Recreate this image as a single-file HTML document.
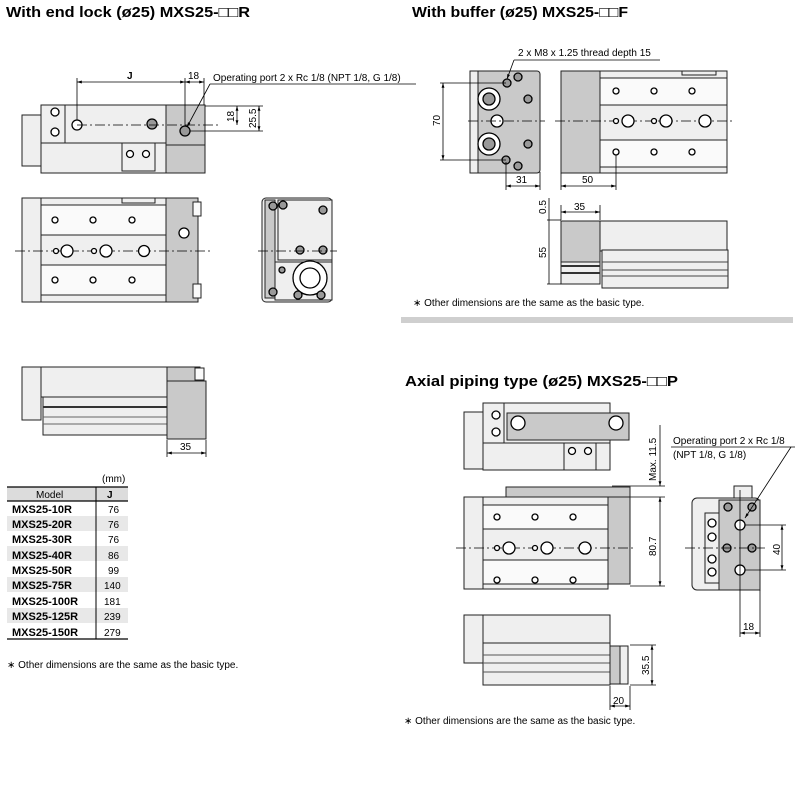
<!DOCTYPE html>
<html><head><meta charset="utf-8"><style>
html,body{margin:0;padding:0;background:#fff}
svg{display:block}
text{font-family:"Liberation Sans",sans-serif;fill:#000}
.t{font-weight:bold;font-size:15px}
.s{font-size:10px}
.b{fill:#efefef;stroke:#222;stroke-width:1}
.g{fill:#c9c9c9;stroke:#222;stroke-width:1}
.w{fill:#fafafa;stroke:#222;stroke-width:1}
.d{stroke:#000;stroke-width:.8;fill:none}
.c{stroke:#000;stroke-width:.7;stroke-dasharray:10,3,2,3;fill:none}
.h{fill:#fff;stroke:#000;stroke-width:1.3}
.hb{fill:#999;stroke:#000;stroke-width:1.3}
</style></head><body>
<svg width="800" height="800" viewBox="0 0 800 800" xmlns="http://www.w3.org/2000/svg">
<defs>
<marker id="a" viewBox="0 0 10 10" refX="10" refY="5" markerWidth="6" markerHeight="6" orient="auto-start-reverse"><path d="M0,2L10,5L0,8z" fill="#000"/></marker>
</defs>

<!-- TITLES -->
<text x="6" y="17" class="t" textLength="244" lengthAdjust="spacingAndGlyphs">With end lock (ø25) MXS25-□□R</text>
<text x="412" y="17" class="t" textLength="216" lengthAdjust="spacingAndGlyphs">With buffer (ø25) MXS25-□□F</text>
<text x="405" y="386" class="t" textLength="273" lengthAdjust="spacingAndGlyphs">Axial piping type (ø25) MXS25-□□P</text>

<!-- ===== TOP LEFT SIDE VIEW ===== -->
<rect x="22" y="115" width="19" height="51" class="b"/>
<rect x="41" y="105" width="125" height="38" class="b"/>
<rect x="41" y="105" width="24" height="38" class="b"/>
<rect x="41" y="143" width="125" height="30" class="b"/>
<rect x="122" y="143" width="33" height="28" class="b"/>
<rect x="166" y="105" width="39" height="40" class="g"/>
<rect x="166" y="145" width="39" height="28" class="g"/>
<circle cx="55" cy="112" r="4" class="h"/><circle cx="55" cy="132" r="4" class="h"/>
<circle cx="77" cy="125" r="5" class="h"/>
<circle cx="152" cy="124" r="5" class="hb"/>
<circle cx="185" cy="131" r="5" class="hb"/>
<circle cx="130" cy="154" r="3.5" class="h"/><circle cx="146" cy="154" r="3.5" class="h"/>
<line x1="77" y1="125" x2="220" y2="125" class="c"/>
<line x1="77" y1="120" x2="77" y2="78" class="d"/>
<line x1="185" y1="126" x2="185" y2="78" class="d"/>
<line x1="204" y1="105" x2="204" y2="78" class="d"/>
<line x1="77" y1="82" x2="185" y2="82" class="d" marker-start="url(#a)" marker-end="url(#a)"/>
<line x1="185" y1="82" x2="204" y2="82" class="d" marker-start="url(#a)" marker-end="url(#a)"/>
<text x="127" y="79" class="s" font-weight="bold" font-size="12">J</text>
<text x="188" y="79" class="s">18</text>
<line x1="205" y1="106" x2="263" y2="106" class="d"/>
<line x1="190" y1="131" x2="263" y2="131" class="d"/>
<line x1="237" y1="106" x2="237" y2="125" class="d" marker-start="url(#a)" marker-end="url(#a)"/>
<line x1="259" y1="106" x2="259" y2="131" class="d" marker-start="url(#a)" marker-end="url(#a)"/>
<text transform="translate(234,122) rotate(-90)" class="s">18</text>
<text transform="translate(256,128) rotate(-90)" class="s">25.5</text>
<text x="213" y="81" class="s">Operating port 2 x Rc 1/8 (NPT 1/8, G 1/8)</text>
<line x1="210" y1="84" x2="416" y2="84" class="d"/>
<line x1="210" y1="84" x2="187" y2="127" class="d" marker-end="url(#a)"/>

<!-- TOP VIEW -->
<rect x="22" y="198" width="19" height="104" class="b"/>
<rect x="41" y="198" width="125" height="104" class="b"/>
<rect x="41" y="205" width="125" height="30" class="w"/>
<rect x="41" y="265" width="125" height="30" class="w"/>
<rect x="122" y="198" width="33" height="5" class="b"/>
<rect x="166" y="198" width="32" height="104" class="g"/>
<rect x="193" y="202" width="8" height="14" class="w"/><rect x="193" y="284" width="8" height="14" class="w"/>
<line x1="15" y1="251" x2="212" y2="251" class="c"/>
<g class="h"><circle cx="55" cy="220" r="3"/><circle cx="93" cy="220" r="3"/><circle cx="132" cy="220" r="3"/>
<circle cx="55" cy="280" r="3"/><circle cx="93" cy="280" r="3"/><circle cx="132" cy="280" r="3"/>
<circle cx="56" cy="251" r="2.5"/><circle cx="67" cy="251" r="6"/><circle cx="94" cy="251" r="2.5"/><circle cx="106" cy="251" r="6"/><circle cx="144" cy="251" r="5.5"/>
<circle cx="184" cy="233" r="5"/></g>

<!-- END VIEW -->
<rect x="262" y="198" width="70" height="104" rx="4" class="b"/>
<rect x="265" y="200" width="10" height="98" class="g"/>
<rect x="278" y="200" width="54" height="60" class="b"/>
<rect x="275" y="262" width="57" height="38" class="b"/>
<circle cx="310" cy="278" r="17" class="h"/><circle cx="310" cy="278" r="10" class="h"/>
<g class="hb"><circle cx="273" cy="206" r="4"/><circle cx="283" cy="205" r="4"/><circle cx="323" cy="210" r="4"/><circle cx="300" cy="250" r="4"/><circle cx="323" cy="250" r="4"/><circle cx="273" cy="292" r="4"/><circle cx="298" cy="295" r="4"/><circle cx="321" cy="295" r="4"/><circle cx="282" cy="270" r="3"/></g>
<line x1="258" y1="251" x2="337" y2="251" class="c"/>

<!-- LEFT BOTTOM SIDE VIEW -->
<rect x="22" y="367" width="19" height="53" class="b"/>
<rect x="41" y="367" width="126" height="30" class="b"/>
<rect x="43" y="397" width="124" height="38" class="b"/>
<line x1="43" y1="407" x2="167" y2="407" stroke="#333" stroke-width="2"/>
<line x1="43" y1="417" x2="167" y2="417" stroke="#666"/>
<line x1="43" y1="424" x2="167" y2="424" stroke="#666"/>
<rect x="167" y="367" width="33" height="14" class="g"/>
<rect x="167" y="381" width="39" height="58" class="g"/>
<rect x="195" y="368" width="9" height="12" class="w"/>
<line x1="167" y1="440" x2="167" y2="457" class="d"/><line x1="206" y1="440" x2="206" y2="457" class="d"/>
<line x1="167" y1="453" x2="206" y2="453" class="d" marker-start="url(#a)" marker-end="url(#a)"/>
<text x="180" y="450" class="s">35</text>

<!-- TABLE -->
<text x="102" y="482" class="s">(mm)</text>
<rect x="7" y="487" width="121" height="14" fill="#dcdcdc"/>
<line x1="7" y1="487" x2="128" y2="487" stroke="#000" stroke-width="1.2"/>
<line x1="7" y1="501" x2="128" y2="501" stroke="#000" stroke-width="1.2"/>
<line x1="96" y1="487" x2="96" y2="639" stroke="#000"/>
<g fill="#e8e8e8"><rect x="7" y="516" width="121" height="15"/><rect x="7" y="546" width="121" height="15"/><rect x="7" y="577" width="121" height="15"/><rect x="7" y="608" width="121" height="15"/></g>
<line x1="96" y1="487" x2="96" y2="639" stroke="#000"/>
<line x1="7" y1="639" x2="128" y2="639" stroke="#000" stroke-width="1.2"/>
<text x="36" y="498" class="s">Model</text>
<text x="107" y="498" class="s" font-weight="bold" font-size="11">J</text>
<g font-weight="bold" font-size="11">
<text x="12" y="513">MXS25-10R</text><text x="12" y="528">MXS25-20R</text><text x="12" y="543">MXS25-30R</text><text x="12" y="559">MXS25-40R</text><text x="12" y="574">MXS25-50R</text><text x="12" y="589">MXS25-75R</text><text x="12" y="605">MXS25-100R</text><text x="12" y="620">MXS25-125R</text><text x="12" y="636">MXS25-150R</text></g>
<g font-size="10"><text x="108" y="513">76</text><text x="108" y="528">76</text><text x="108" y="543">76</text><text x="108" y="559">86</text><text x="108" y="574">99</text><text x="104" y="589">140</text><text x="104" y="605">181</text><text x="104" y="620">239</text><text x="104" y="636">279</text></g>
<text x="7" y="668" class="s">∗ Other dimensions are the same as the basic type.</text>

<!-- ===== TOP RIGHT ===== -->
<rect x="470" y="71" width="70" height="102" rx="3" class="g"/>
<rect x="470" y="71" width="8" height="102" class="b"/>
<circle cx="489" cy="99" r="11" class="h"/><circle cx="489" cy="99" r="6" class="hb"/>
<circle cx="489" cy="144" r="11" class="h"/><circle cx="489" cy="144" r="6" class="hb"/>
<circle cx="497" cy="121" r="6" class="h"/>
<g class="hb"><circle cx="507" cy="83" r="4"/><circle cx="518" cy="77" r="4"/><circle cx="528" cy="99" r="4"/><circle cx="528" cy="144" r="4"/><circle cx="506" cy="160" r="4"/><circle cx="518" cy="166" r="4"/></g>
<line x1="468" y1="121" x2="545" y2="121" class="c"/>
<line x1="440" y1="83" x2="506" y2="83" class="d"/><line x1="440" y1="160" x2="506" y2="160" class="d"/>
<line x1="443" y1="83" x2="443" y2="160" class="d" marker-start="url(#a)" marker-end="url(#a)"/>
<text transform="translate(440,126) rotate(-90)" class="s">70</text>
<line x1="506" y1="162" x2="506" y2="190" class="d"/><line x1="540" y1="172" x2="540" y2="190" class="d"/>
<line x1="506" y1="186" x2="540" y2="186" class="d" marker-start="url(#a)" marker-end="url(#a)"/>
<text x="516" y="183" class="s">31</text>
<text x="518" y="56" class="s">2 x M8 x 1.25 thread depth 15</text>
<line x1="514" y1="60" x2="660" y2="60" class="d"/>
<line x1="514" y1="60" x2="507" y2="79" class="d" marker-end="url(#a)"/>

<rect x="561" y="71" width="166" height="102" class="b"/>
<rect x="561" y="71" width="39" height="102" class="g"/>
<rect x="600" y="78" width="127" height="27" class="w"/>
<rect x="600" y="140" width="127" height="27" class="w"/>
<rect x="682" y="71" width="34" height="4" class="b"/>
<line x1="555" y1="121" x2="732" y2="121" class="c"/>
<g class="h"><circle cx="616" cy="91" r="3"/><circle cx="654" cy="91" r="3"/><circle cx="692" cy="91" r="3"/><circle cx="616" cy="152" r="3"/><circle cx="654" cy="152" r="3"/><circle cx="692" cy="152" r="3"/>
<circle cx="616" cy="121" r="2.5"/><circle cx="628" cy="121" r="6"/><circle cx="654" cy="121" r="2.5"/><circle cx="666" cy="121" r="6"/><circle cx="705" cy="121" r="6"/></g>
<line x1="561" y1="173" x2="561" y2="190" class="d"/><line x1="616" y1="155" x2="616" y2="190" class="d"/>
<line x1="561" y1="186" x2="616" y2="186" class="d" marker-start="url(#a)" marker-end="url(#a)"/>
<text x="582" y="183" class="s">50</text>

<rect x="561" y="221" width="166" height="30" class="b"/>
<rect x="602" y="250" width="126" height="38" class="b"/>
<line x1="602" y1="262" x2="728" y2="262" stroke="#444"/><line x1="602" y1="270" x2="728" y2="270" stroke="#444"/><line x1="602" y1="276" x2="728" y2="276" stroke="#444"/>
<rect x="561" y="221" width="39" height="63" class="g"/>
<rect x="561" y="262" width="39" height="22" class="b"/>
<line x1="561" y1="266" x2="600" y2="266" stroke="#333" stroke-width="2"/><line x1="561" y1="273" x2="600" y2="273" stroke="#333" stroke-width="2"/>
<line x1="547" y1="220" x2="561" y2="220" class="d"/><line x1="547" y1="284" x2="561" y2="284" class="d"/>
<line x1="549" y1="198" x2="549" y2="284" class="d"/>
<text transform="translate(546,214) rotate(-90)" class="s">0.5</text>
<text transform="translate(546,258) rotate(-90)" class="s">55</text>
<line x1="561" y1="205" x2="561" y2="220" class="d"/><line x1="600" y1="205" x2="600" y2="220" class="d"/>
<line x1="561" y1="212" x2="600" y2="212" class="d" marker-start="url(#a)" marker-end="url(#a)"/>
<text x="574" y="210" class="s">35</text>
<text x="413" y="306" class="s">∗ Other dimensions are the same as the basic type.</text>
<rect x="401" y="317" width="392" height="6" fill="#cfcfcf"/>

<!-- ===== BOTTOM RIGHT ===== -->
<rect x="464" y="412" width="19" height="57" class="b"/>
<rect x="483" y="403" width="127" height="40" class="b"/>
<rect x="483" y="403" width="21" height="40" class="b"/>
<rect x="507" y="413" width="122" height="27" class="g"/>
<rect x="483" y="443" width="127" height="27" class="b"/>
<rect x="564" y="443" width="32" height="27" class="b"/>
<g class="h"><circle cx="496" cy="415" r="4"/><circle cx="496" cy="432" r="4"/><circle cx="518" cy="423" r="7"/><circle cx="616" cy="423" r="7"/><circle cx="572" cy="451" r="3.5"/><circle cx="588" cy="451" r="3.5"/></g>
<line x1="612" y1="486" x2="665" y2="486" class="d"/><line x1="630" y1="497" x2="665" y2="497" class="d"/>
<line x1="660" y1="425" x2="660" y2="486" class="d" marker-end="url(#a)"/>
<text transform="translate(656,481) rotate(-90)" class="s">Max. 11.5</text>
<rect x="506" y="487" width="124" height="10" class="g"/>
<rect x="464" y="497" width="19" height="92" class="b"/>
<rect x="483" y="497" width="125" height="92" class="b"/>
<rect x="483" y="505" width="125" height="24" class="w"/><rect x="483" y="560" width="125" height="24" class="w"/>
<rect x="608" y="497" width="22" height="87" class="g"/>
<line x1="456" y1="548" x2="636" y2="548" class="c"/>
<g class="h"><circle cx="497" cy="517" r="3"/><circle cx="535" cy="517" r="3"/><circle cx="573" cy="517" r="3"/><circle cx="497" cy="580" r="3"/><circle cx="535" cy="580" r="3"/><circle cx="573" cy="580" r="3"/>
<circle cx="497" cy="548" r="2.5"/><circle cx="509" cy="548" r="6"/><circle cx="535" cy="548" r="2.5"/><circle cx="547" cy="548" r="6"/><circle cx="585" cy="548" r="6"/></g>
<line x1="630" y1="586" x2="665" y2="586" class="d"/>
<line x1="660" y1="497" x2="660" y2="586" class="d" marker-start="url(#a)" marker-end="url(#a)"/>
<text transform="translate(656,556) rotate(-90)" class="s">80.7</text>

<rect x="692" y="498" width="68" height="92" rx="5" class="b"/>
<rect x="719" y="500" width="41" height="90" class="g"/>
<rect x="705" y="513" width="14" height="70" class="b"/>
<rect x="734" y="486" width="18" height="12" class="b"/>
<g class="h"><circle cx="712" cy="523" r="4"/><circle cx="712" cy="537" r="4"/><circle cx="712" cy="559" r="4"/><circle cx="712" cy="572" r="4"/><circle cx="740" cy="525" r="5"/><circle cx="740" cy="570" r="5"/></g>
<g class="hb"><circle cx="728" cy="507" r="4"/><circle cx="752" cy="507" r="4"/><circle cx="727" cy="548" r="4"/><circle cx="752" cy="548" r="4"/></g>
<line x1="685" y1="548" x2="765" y2="548" class="c"/>
<line x1="740" y1="490" x2="740" y2="637" class="d"/>
<line x1="745" y1="525" x2="786" y2="525" class="d"/><line x1="745" y1="570" x2="786" y2="570" class="d"/>
<line x1="782" y1="525" x2="782" y2="570" class="d" marker-start="url(#a)" marker-end="url(#a)"/>
<text transform="translate(780,555) rotate(-90)" class="s">40</text>
<line x1="760" y1="590" x2="760" y2="637" class="d"/>
<line x1="740" y1="633" x2="760" y2="633" class="d" marker-start="url(#a)" marker-end="url(#a)"/>
<text x="743" y="630" class="s">18</text>
<text x="673" y="444" class="s">Operating port 2 x Rc 1/8</text>
<text x="673" y="458" class="s">(NPT 1/8, G 1/8)</text>
<line x1="671" y1="447" x2="795" y2="447" class="d"/>
<line x1="791" y1="447" x2="745" y2="518" class="d" marker-end="url(#a)"/>

<rect x="464" y="615" width="19" height="48" class="b"/>
<rect x="483" y="615" width="127" height="28" class="b"/>
<rect x="483" y="643" width="127" height="42" class="b"/>
<line x1="483" y1="655" x2="610" y2="655" stroke="#555"/><line x1="483" y1="663" x2="610" y2="663" stroke="#555"/><line x1="483" y1="672" x2="610" y2="672" stroke="#555"/>
<rect x="610" y="646" width="18" height="38" class="g"/>
<rect x="620" y="646" width="8" height="38" class="b"/>
<line x1="630" y1="645" x2="656" y2="645" class="d"/><line x1="630" y1="685" x2="656" y2="685" class="d"/>
<line x1="652" y1="645" x2="652" y2="685" class="d" marker-start="url(#a)" marker-end="url(#a)"/>
<text transform="translate(649,675) rotate(-90)" class="s">35.5</text>
<line x1="610" y1="686" x2="610" y2="710" class="d"/><line x1="630" y1="686" x2="630" y2="710" class="d"/>
<line x1="610" y1="706" x2="630" y2="706" class="d" marker-start="url(#a)" marker-end="url(#a)"/>
<text x="613" y="704" class="s">20</text>
<text x="404" y="724" class="s">∗ Other dimensions are the same as the basic type.</text>
</svg>
</body></html>
